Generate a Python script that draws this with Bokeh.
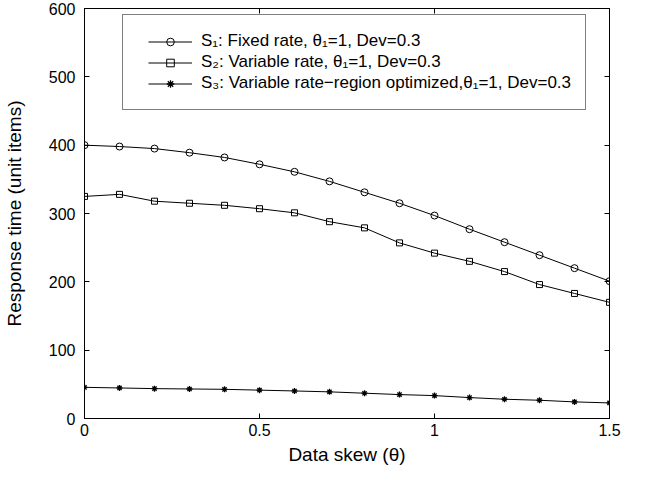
from bokeh.plotting import figure
from bokeh.models import Range1d, FixedTicker, LinearAxis, Legend, LegendItem
from bokeh.embed import file_html
from bokeh.resources import INLINE

theta = [0.0, 0.1, 0.2, 0.3, 0.4, 0.5, 0.6, 0.7, 0.8, 0.9, 1.0, 1.1, 1.2, 1.3, 1.4, 1.5]
s1 = [400, 398, 395, 389, 382, 372, 361, 347, 331, 315, 297, 277, 258, 239, 220, 201]
s2 = [325, 328, 318, 315, 312, 307, 301, 288, 279, 257, 242, 230, 215, 196, 183, 170]
s3 = [45.6, 44.7, 43.7, 43.2, 42.7, 41.5, 40.3, 39.0, 37.0, 35.0, 33.5, 30.6, 28.2, 26.7, 24.3, 22.8]

labels = [
    "S\u2081: Fixed rate, \u03b8\u2081=1, Dev=0.3",
    "S\u2082: Variable rate, \u03b8\u2081=1, Dev=0.3",
    "S\u2083: Variable rate\u2212region optimized,\u03b8\u2081=1, Dev=0.3",
]
x_ticks = [0, 0.5, 1, 1.5]
x_tick_labels = ["0", "0.5", "1", "1.5"]
y_ticks = [0, 100, 200, 300, 400, 500, 600]

FONT = "Liberation Sans"

p = figure(frame_width=525, frame_height=410, output_backend="svg", toolbar_location=None,
           x_range=Range1d(0, 1.5), y_range=Range1d(0, 600),
           min_border_left=84, min_border_right=23, min_border_top=8, min_border_bottom=50)
p.xgrid.visible = False
p.ygrid.visible = False
p.outline_line_color = "black"
p.outline_line_width = 1
p.background_fill_color = "white"
p.border_fill_color = "white"

def style_axis(ax, ticks, show_labels, overrides=None):
    ax.ticker = FixedTicker(ticks=ticks)
    ax.major_tick_in = 5
    ax.major_tick_out = 0
    ax.minor_tick_in = 0
    ax.minor_tick_out = 0
    ax.axis_line_color = "black"
    ax.major_tick_line_color = "black"
    ax.major_label_text_font = FONT
    ax.major_label_text_font_size = "16px"
    ax.major_label_text_color = "black"
    if overrides is not None:
        ax.major_label_overrides = overrides
    if not show_labels:
        ax.major_label_overrides = {t: "" for t in ticks}
        ax.major_label_text_font_size = "0px"
        ax.major_label_standoff = 0
        ax.axis_label_standoff = 0

style_axis(p.xaxis[0], x_ticks, True, {t: l for t, l in zip(x_ticks, x_tick_labels)})
style_axis(p.yaxis[0], y_ticks, True)
p.xaxis[0].major_label_standoff = 5
p.yaxis[0].major_label_standoff = 9
p.xaxis[0].axis_label = "Data skew (\u03b8)"
p.yaxis[0].axis_label = "Response time (unit items)"
for ax in (p.xaxis[0], p.yaxis[0]):
    ax.axis_label_text_font = FONT
    ax.axis_label_text_font_size = "19px"
    ax.axis_label_text_font_style = "normal"
    ax.axis_label_text_color = "black"
p.xaxis[0].axis_label_standoff = 5
p.yaxis[0].axis_label_standoff = 21

top = LinearAxis()
style_axis(top, x_ticks, False)
p.add_layout(top, "above")
right = LinearAxis()
style_axis(right, y_ticks, False)
p.add_layout(right, "right")

l1 = p.line(theta, s1, line_color="black", line_width=1)
m1 = p.scatter(theta, s1, marker="circle", size=7, fill_color=None, line_color="black", line_width=1)
l2 = p.line(theta, s2, line_color="black", line_width=1)
m2 = p.scatter(theta, s2, marker="square", size=6, fill_color=None, line_color="black", line_width=1)
l3 = p.line(theta, s3, line_color="black", line_width=1)
m3 = p.scatter(theta, s3, marker="asterisk", size=6, fill_color=None, line_color="black", line_width=1.3)

legend = Legend(items=[
    LegendItem(label=labels[0], renderers=[l1, m1]),
    LegendItem(label=labels[1], renderers=[l2, m2]),
    LegendItem(label=labels[2], renderers=[l3, m3]),
], location=(38, 308))
legend.border_line_color = "black"
legend.border_line_width = 1
legend.background_fill_color = "white"
legend.background_fill_alpha = 1
legend.label_text_font = FONT
legend.label_text_font_size = "17px"
legend.label_text_color = "black"
legend.glyph_width = 44
legend.glyph_height = 19
legend.label_height = 19
legend.spacing = 1
try:
    legend.padding = dict(left=25, right=14, top=16, bottom=16)
except Exception:
    legend.padding = 17
legend.margin = 0
legend.label_standoff = 9
p.add_layout(legend, "center")

open("out.html", "w").write(file_html(p, INLINE))
